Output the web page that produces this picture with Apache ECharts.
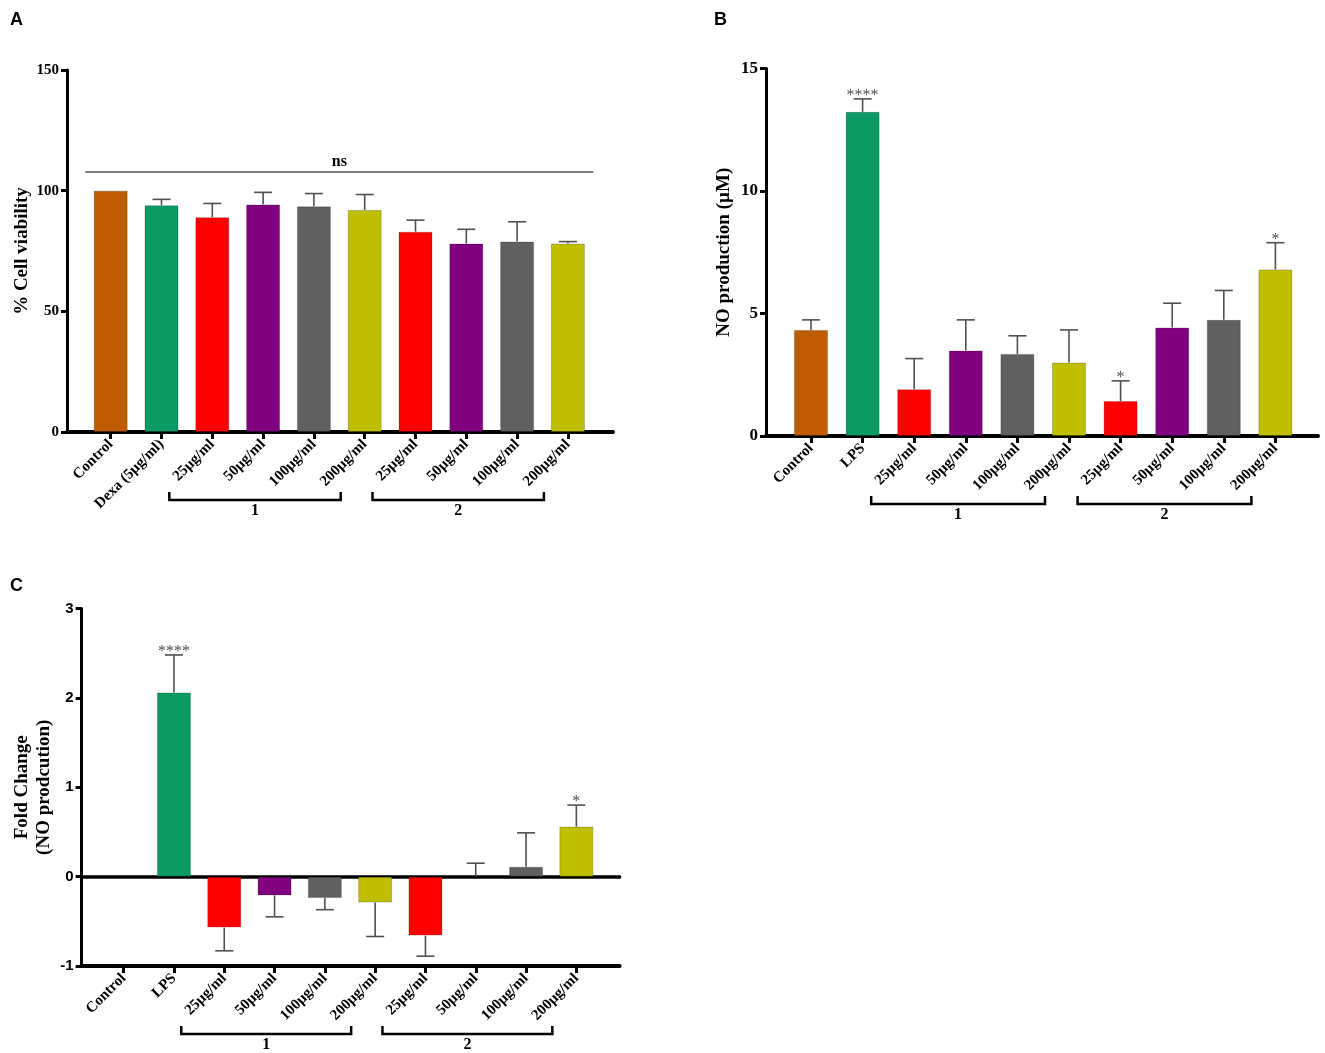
<!DOCTYPE html>
<html>
<head>
<meta charset="utf-8">
<title>Cell viability and NO production</title>
<script src="https://cdn.jsdelivr.net/npm/echarts@6/dist/echarts.min.js"></script>
<style>
    html, body { margin: 0; padding: 0; background: #fff; }
    #chart { width: 1325px; height: 1053px; }
</style>
</head>
<body>
<div id="chart"></div>
<script>
// categories
var catsA = ['Control', 'Dexa (5µg/ml)', '25µg/ml', '50µg/ml', '100µg/ml', '200µg/ml', '25µg/ml', '50µg/ml', '100µg/ml', '200µg/ml'];
var catsBC = ['Control', 'LPS', '25µg/ml', '50µg/ml', '100µg/ml', '200µg/ml', '25µg/ml', '50µg/ml', '100µg/ml', '200µg/ml'];
// groups under the labels: [first index, last index]
var groups = [[2, 5], [6, 9]];
var groupNames = ['1', '2'];

// A: % cell viability
var viability = [100, 94, 89, 94.3, 93.5, 92, 83, 78.1, 78.9, 78.1];
var viabilitySem = [0, 2.4, 5.7, 5, 5.3, 6.4, 4.8, 5.9, 8.2, 0.8];
var nsLevel = 108;

// B: NO production (µM)
var noProd = [4.33, 13.23, 1.91, 3.49, 3.35, 3.0, 1.43, 4.43, 4.74, 6.80];
var noProdSem = [0.41, 0.53, 1.25, 1.25, 0.74, 1.33, 0.82, 0.99, 1.2, 1.09];
var noProdSig = ['', '****', '', '', '', '', '*', '', '', '*'];

// C: fold change (NO production)
var foldChange = [0, 2.06, -0.57, -0.21, -0.24, -0.29, -0.66, 0, 0.11, 0.56];
var foldSem = [0, 0.42, 0.26, 0.24, 0.13, 0.38, 0.23, 0.15, 0.38, 0.24];
var foldSig = ['', '****', '', '', '', '', '', '', '', '*'];

// y axis ticks
var yA = { min: 0, max: 150, interval: 50 };
var yB = { min: 0, max: 15, interval: 5 };
var yC = { min: -1, max: 3, interval: 1 };

var palette = ['#BF5B00', '#0B9964', '#FF0000', '#800080', '#606060', '#BFBF00',
    '#FF0000', '#800080', '#606060', '#BFBF00'];
var serif = 'Liberation Serif';
var sans = 'Liberation Sans';

var chart = echarts.init(document.getElementById('chart'));

// outer grid: only the long axis lines and the y ticks
function outerX(grid, extra) {
    return Object.assign({
        gridIndex: grid, type: 'value', min: 0, max: 1,
        axisLine: { show: true, onZero: false, lineStyle: { color: '#000', width: 4 } },
        axisTick: { show: false }, axisLabel: { show: false }, splitLine: { show: false }
    }, extra || {});
}
function outerY(grid, sc, name, gap, font, size) {
    return {
        gridIndex: grid, type: 'value', min: sc.min, max: sc.max, interval: sc.interval,
        name: name, nameLocation: 'middle', nameGap: gap,
        nameTextStyle: { fontFamily: serif, fontWeight: 'bold', fontSize: 19, color: '#000', lineHeight: 22 },
        axisLine: { show: true, lineStyle: { color: '#000', width: 3 } },
        axisTick: { show: true, length: 6, lineStyle: { color: '#000', width: 3 } },
        axisLabel: { fontFamily: font, fontWeight: 'bold', fontSize: size, color: '#000', margin: 8 },
        splitLine: { show: false }
    };
}
// inner grid: bars and the category ticks / labels
function innerX(grid, cats) {
    return {
        gridIndex: grid, type: 'category', data: cats,
        axisLine: { show: false, onZero: false },
        axisTick: { show: true, alignWithLabel: true, length: 7, lineStyle: { color: '#000', width: 3 } },
        axisLabel: { interval: 0, rotate: 45, margin: 10, fontFamily: serif, fontWeight: 'bold', fontSize: 15, color: '#000' }
    };
}
function innerY(grid, sc) {
    return { gridIndex: grid, type: 'value', show: false, min: sc.min, max: sc.max, interval: sc.interval };
}

function barSeries(axis, values) {
    return {
        type: 'bar', xAxisIndex: axis[0], yAxisIndex: axis[1], barWidth: 34, z: 2,
        data: values.map(function (v, i) {
            return { value: v, itemStyle: { color: palette[i] } };
        }),
        itemStyle: { borderColor: 'rgba(0,0,0,0.2)', borderWidth: 1 }
    };
}

function errorSeries(axis, values, sems, sigs) {
    return {
        type: 'custom', xAxisIndex: axis[0], yAxisIndex: axis[1], z: 3, clip: false,
        data: values.map(function (v, i) { return [i, v, sems[i]]; }),
        renderItem: function (params, api) {
            var i = api.value(0), m = api.value(1), s = api.value(2);
            if (!s) return null;
            var dir = m < 0 ? -1 : 1;
            var p0 = api.coord([i, m]);
            var p1 = api.coord([i, m + dir * s]);
            var st = { stroke: '#505050', lineWidth: 1.6 };
            var kids = [
                { type: 'line', shape: { x1: p0[0], y1: p0[1], x2: p1[0], y2: p1[1] }, style: st },
                { type: 'line', shape: { x1: p1[0] - 9, y1: p1[1], x2: p1[0] + 9, y2: p1[1] }, style: st }
            ];
            var sig = sigs ? sigs[params.dataIndex] : '';
            if (sig) {
                kids.push({
                    type: 'text',
                    style: {
                        x: p1[0], y: p1[1] + 5, text: sig, fill: '#505050',
                        font: '16px "' + serif + '"', align: 'center', verticalAlign: 'bottom'
                    }
                });
            }
            return { type: 'group', children: kids };
        }
    };
}

function bracketSeries(axis, yMin) {
    return {
        type: 'custom', xAxisIndex: axis[0], yAxisIndex: axis[1], clip: false, silent: true,
        data: groups,
        renderItem: function (params, api) {
            var a = api.coord([api.value(0), yMin]);
            var b = api.coord([api.value(1), yMin]);
            var x0 = a[0] - 43, x1 = b[0] - 24, y = a[1] + 68;
            return {
                type: 'group',
                children: [
                    {
                        type: 'polyline',
                        shape: { points: [[x0, y - 8], [x0, y], [x1, y], [x1, y - 8]] },
                        style: { stroke: '#000', lineWidth: 2.5, fill: null }
                    },
                    {
                        type: 'text',
                        style: {
                            x: (x0 + x1) / 2, y: y + 3, text: groupNames[params.dataIndex], fill: '#000',
                            font: 'bold 16px "' + serif + '"', align: 'center', verticalAlign: 'top'
                        }
                    }
                ]
            };
        }
    };
}

var letterStyle = { fontFamily: sans, fontWeight: 'bold', fontSize: 18, color: '#000' };

var barsA = barSeries([1, 1], viability);
barsA.markLine = {
    silent: true, symbol: 'none',
    lineStyle: { color: '#505050', width: 1.5, type: 'solid' },
    label: { show: true, formatter: 'ns', position: 'insideMiddleTop', distance: 2,
        fontFamily: serif, fontWeight: 'bold', fontSize: 16, color: '#000' },
    data: [{ yAxis: nsLevel }]
};

var option = {
    animation: false,
    backgroundColor: '#fff',
    title: [
        { text: 'A', left: 5, top: 6, textStyle: letterStyle },
        { text: 'B', left: 709, top: 6, textStyle: letterStyle },
        { text: 'C', left: 5, top: 572, textStyle: letterStyle }
    ],
    grid: [
        { left: 67, top: 70, width: 546, height: 362 },
        { left: 85.3, top: 70, width: 508, height: 362 },
        { left: 766, top: 68.5, width: 552, height: 367.5 },
        { left: 785.2, top: 68.5, width: 516, height: 367.5 },
        { left: 81.6, top: 608.5, width: 538, height: 357.5 },
        { left: 98.5, top: 608.5, width: 503, height: 357.5 }
    ],
    xAxis: [
        outerX(0),
        innerX(1, catsA),
        outerX(2),
        innerX(3, catsBC),
        outerX(4, { position: 'bottom' }),
        outerX(4, { position: 'top', axisLine: { show: true, onZero: true, lineStyle: { color: '#000', width: 3.5 } } }),
        innerX(5, catsBC)
    ],
    yAxis: [
        outerY(0, yA, '% Cell viability', 34, serif, 15),
        innerY(1, yA),
        outerY(2, yB, 'NO production (µM)', 31, serif, 17),
        innerY(3, yB),
        outerY(4, yC, 'Fold Change\n(NO prodcution)', 27, sans, 15),
        innerY(5, yC)
    ],
    series: [
        barsA,
        errorSeries([1, 1], viability, viabilitySem, null),
        bracketSeries([1, 1], yA.min),
        barSeries([3, 3], noProd),
        errorSeries([3, 3], noProd, noProdSem, noProdSig),
        bracketSeries([3, 3], yB.min),
        barSeries([6, 5], foldChange),
        errorSeries([6, 5], foldChange, foldSem, foldSig),
        bracketSeries([6, 5], yC.min)
    ]
};
chart.setOption(option);
</script>
</body>
</html>
